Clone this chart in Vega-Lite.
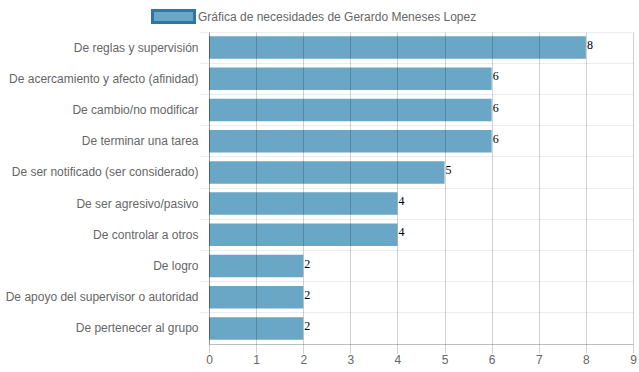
{
  "$schema": "https://vega.github.io/schema/vega-lite/v6.json",
  "width": 424,
  "height": 312,
  "autosize": {"type": "none"},
  "padding": {"left": 209, "top": 32, "right": 6, "bottom": 28},
  "background": "white",
  "config": {
    "view": {"stroke": null},
    "font": "Liberation Sans",
    "axis": {"labelFont": "Liberation Sans", "labelFontSize": 12, "labelColor": "#666666"}
  },
  "data": {
    "values": [
      {"categoria": "De reglas y supervisión", "valor": 8, "serie": "Gráfica de necesidades de Gerardo Meneses Lopez"},
      {"categoria": "De acercamiento y afecto (afinidad)", "valor": 6, "serie": "Gráfica de necesidades de Gerardo Meneses Lopez"},
      {"categoria": "De cambio/no modificar", "valor": 6, "serie": "Gráfica de necesidades de Gerardo Meneses Lopez"},
      {"categoria": "De terminar una tarea", "valor": 6, "serie": "Gráfica de necesidades de Gerardo Meneses Lopez"},
      {"categoria": "De ser notificado (ser considerado)", "valor": 5, "serie": "Gráfica de necesidades de Gerardo Meneses Lopez"},
      {"categoria": "De ser agresivo/pasivo", "valor": 4, "serie": "Gráfica de necesidades de Gerardo Meneses Lopez"},
      {"categoria": "De controlar a otros", "valor": 4, "serie": "Gráfica de necesidades de Gerardo Meneses Lopez"},
      {"categoria": "De logro", "valor": 2, "serie": "Gráfica de necesidades de Gerardo Meneses Lopez"},
      {"categoria": "De apoyo del supervisor o autoridad", "valor": 2, "serie": "Gráfica de necesidades de Gerardo Meneses Lopez"},
      {"categoria": "De pertenecer al grupo", "valor": 2, "serie": "Gráfica de necesidades de Gerardo Meneses Lopez"}
    ]
  },
  "encoding": {
    "y": {
      "field": "categoria",
      "type": "nominal",
      "sort": null,
      "scale": {"paddingInner": 0, "paddingOuter": 0},
      "axis": {
        "title": null,
        "bandPosition": 0,
        "labelOffset": 0,
        "labelLimit": 300,
        "labelPadding": 1,
        "tickSize": 10,
        "tickColor": "#000000",
        "tickOpacity": 0.07,
        "grid": true,
        "gridColor": "#000000",
        "gridOpacity": 0.07,
        "domain": true,
        "domainColor": "#000000",
        "domainOpacity": 0.25,
        "zindex": 1
      }
    },
    "x": {
      "field": "valor",
      "type": "quantitative",
      "scale": {"domain": [0, 9], "nice": false},
      "axis": {
        "title": null,
        "values": [0, 1, 2, 3, 4, 5, 6, 7, 8, 9],
        "format": "d",
        "labelFlush": false,
        "tickSize": 9,
        "tickColor": "#000000",
        "tickOpacity": 0.18,
        "labelPadding": 1,
        "grid": true,
        "gridColor": "#000000",
        "gridOpacity": 0.18,
        "domain": true,
        "domainColor": "#000000",
        "domainOpacity": 0.25,
        "zindex": 1
      }
    }
  },
  "layer": [
    {
      "mark": {"type": "bar", "height": {"band": 0.72}, "opacity": 1},
      "encoding": {
        "color": {
          "field": "serie",
          "type": "nominal",
          "scale": {"range": ["#6aa6c5"]},
          "legend": {
            "title": null,
            "orient": "none",
            "legendX": -58,
            "legendY": -38,
            "padding": 0,
            "symbolType": "M-1,-0.29H1V0.29H-1Z",
            "symbolSize": 1764,
            "symbolFillColor": "#6aa6c5",
            "symbolStrokeColor": "#2e76a3",
            "symbolStrokeWidth": 3,
            "symbolOpacity": 1,
            "labelFont": "Liberation Sans",
            "labelFontSize": 12,
            "labelColor": "#666666",
            "labelOffset": 2,
            "labelLimit": 400
          }
        }
      }
    },
    {
      "mark": {"type": "text", "align": "left", "baseline": "alphabetic", "dx": 1, "dy": 1.5, "font": "Liberation Serif", "fontSize": 12, "color": "#000000"},
      "encoding": {"text": {"field": "valor", "type": "quantitative"}}
    }
  ]
}
